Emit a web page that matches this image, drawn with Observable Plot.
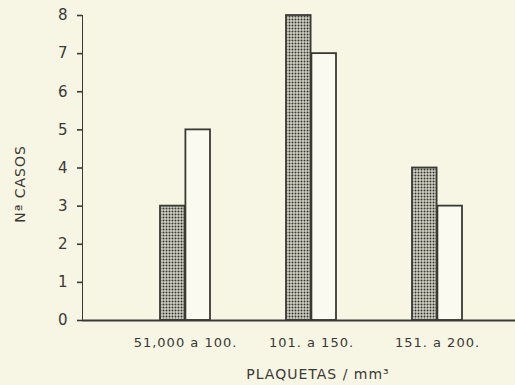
<!DOCTYPE html>
<html>
<head>
<meta charset="utf-8">
<script src="https://cdn.jsdelivr.net/npm/d3@7"></script>
<script src="https://cdn.jsdelivr.net/npm/@observablehq/plot@0.6"></script>
<style>
  html, body { margin: 0; padding: 0; background: #f7f5e4; }
  #chart svg { display: block; background: #f7f5e4; }
</style>
</head>
<body>
<div id="chart"></div>
<script>
const categories = ["51,000 a 100.", "101. a 150.", "151. a 200."];
const stippledValues = [3, 8, 4];
const whiteValues = [5, 7, 3];
const yTicks = [0, 1, 2, 3, 4, 5, 6, 7, 8];
const yTitle = "Nª CASOS";
const xTitle = "PLAQUETAS / mm³";

const ink = "#3a3a35";
const stipData = categories.map((c, i) => ({cat: c, value: stippledValues[i]}));
const whiteData = categories.map((c, i) => ({cat: c, value: whiteValues[i]}));
const half = 25.4;

const chart = Plot.plot({
  width: 515,
  height: 385,
  marginTop: 15,
  marginBottom: 65,
  marginLeft: 82,
  marginRight: 0,
  style: {background: "transparent", fontFamily: "DejaVu Sans, sans-serif", fontSize: "15px", color: ink},
  x: {domain: categories, paddingInner: 0.6, paddingOuter: 0.505, align: 0.6},
  y: {domain: [0, 8], ticks: yTicks, tickSize: 5, tickPadding: 9, line: true, label: null, tickFormat: d => String(d)},
  marks: [
    Plot.barY(stipData, {x: "cat", y: "value", insetRight: half, fill: "url(#stipple)", stroke: ink, strokeWidth: 1.8}),
    Plot.barY(whiteData, {x: "cat", y: "value", insetLeft: half, fill: "#fbfaf0", stroke: ink, strokeWidth: 1.8}),
    Plot.ruleY([0], {stroke: ink, strokeWidth: 2.2}),
    Plot.axisX({tickSize: 0, tickPadding: 17, fontSize: 13, label: null}),
    Plot.text([xTitle], {frameAnchor: "bottom", dx: 19, dy: 58, fontSize: 14, fill: ink}),
    Plot.text([yTitle], {frameAnchor: "left", textAnchor: "middle", rotate: -90, dx: -62, dy: 16, fontSize: 14, fill: ink})
  ]
});

const ns = "http://www.w3.org/2000/svg";
const defs = document.createElementNS(ns, "defs");
defs.innerHTML = `<pattern id="stipple" width="3" height="3" patternUnits="userSpaceOnUse">
  <rect width="3" height="3" fill="#d2d1c4"/>
  <circle cx="1.5" cy="1.5" r="1" fill="#35352f"/>
</pattern>`;
chart.insertBefore(defs, chart.firstChild);
chart.querySelectorAll("text").forEach(t => t.setAttribute("letter-spacing", "1"));
chart.querySelectorAll("[aria-label='y-axis line'], [aria-label='y-axis tick']").forEach(g => { g.setAttribute("stroke-width", "1.6"); });
document.getElementById("chart").appendChild(chart);
</script>
</body>
</html>
